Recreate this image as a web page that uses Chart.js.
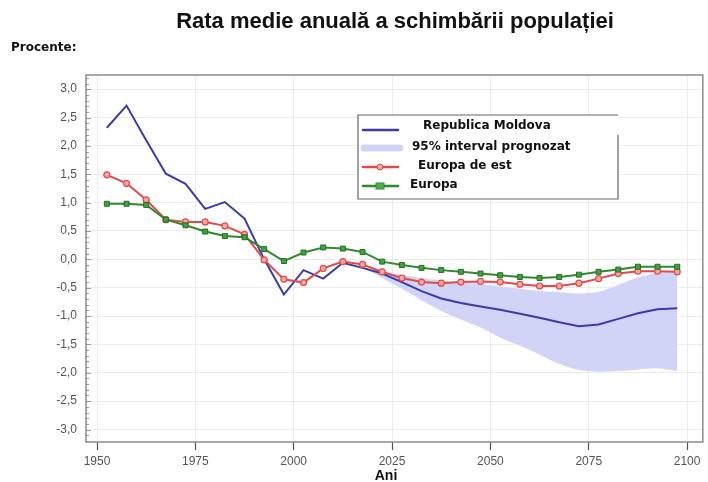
<!DOCTYPE html>
<html>
<head>
<meta charset="utf-8">
<script src="https://cdn.jsdelivr.net/npm/chart.js@4"></script>
<style>
  html, body { margin: 0; padding: 0; background: #fff; }
  #wrap { width: 708px; height: 482px; }
</style>
</head>
<body>
<div id="wrap"><canvas id="chart" width="708" height="482"></canvas></div>
<script>
// mid-points of the 5-year periods
const years = [
  1952.5, 1957.5, 1962.5, 1967.5, 1972.5, 1977.5, 1982.5, 1987.5, 1992.5, 1997.5,
  2002.5, 2007.5, 2012.5, 2017.5, 2022.5, 2027.5, 2032.5, 2037.5, 2042.5, 2047.5,
  2052.5, 2057.5, 2062.5, 2067.5, 2072.5, 2077.5, 2082.5, 2087.5, 2092.5, 2097.5
]
const moldova = [
  2.32, 2.71, 2.10, 1.51, 1.33, 0.89, 1.01, 0.72, 0.00, -0.62,
  -0.19, -0.34, -0.06, -0.15, -0.25, -0.40, -0.56, -0.69, -0.77, -0.83,
  -0.89, -0.96, -1.03, -1.11, -1.18, -1.15, -1.05, -0.95, -0.88, -0.86
]
const europaEst = [
  1.49, 1.34, 1.05, 0.70, 0.66, 0.66, 0.59, 0.44, -0.01, -0.35,
  -0.41, -0.16, -0.04, -0.09, -0.22, -0.33, -0.40, -0.42, -0.40, -0.39,
  -0.40, -0.44, -0.47, -0.47, -0.42, -0.34, -0.25, -0.21, -0.21, -0.22
]
const europa = [
  0.98, 0.98, 0.96, 0.70, 0.60, 0.49, 0.41, 0.39, 0.18, -0.03,
  0.12, 0.21, 0.19, 0.13, -0.04, -0.10, -0.15, -0.19, -0.22, -0.25,
  -0.28, -0.31, -0.33, -0.31, -0.27, -0.22, -0.18, -0.13, -0.13, -0.13
]
// 95% projection interval
const bandYears = [
  2017.5, 2022.5, 2027.5, 2032.5, 2037.5, 2042.5, 2047.5, 2052.5, 2057.5,
  2062.5, 2067.5, 2072.5, 2077.5, 2082.5, 2087.5, 2092.5, 2097.5
]
const bandHigh = [
  -0.15, -0.22, -0.27, -0.33, -0.37, -0.41, -0.44, -0.48, -0.52,
  -0.56, -0.58, -0.60, -0.57, -0.45, -0.32, -0.24, -0.22
]
const bandLow = [
  -0.15, -0.33, -0.52, -0.72, -0.91, -1.06, -1.20, -1.38, -1.52,
  -1.68, -1.84, -1.95, -1.98, -1.97, -1.94, -1.92, -1.97
]
const xTicks = [1950, 1975, 2000, 2025, 2050, 2075, 2100]
const yTicks = [-3, -2.5, -2, -1.5, -1, -0.5, 0, 0.5, 1, 1.5, 2, 2.5, 3]

const legendItems = ["Republica Moldova", "95% interval prognozat", "Europa de est", "Europa"]

const BLUE = "#3b3ba6"
const BAND = "rgb(209, 212, 247)"
const RED = "#e04a4a"
const GREEN = "#2f8a2f"
const FONT = '"Liberation Sans", Arial, sans-serif'
const HEAVY = '"DejaVu Sans", Verdana, sans-serif'

const pts = (xs, ys) => xs.map((x, i) => ({ x, y: ys[i] }))

const decor = {
  id: "decor",
  afterDraw(chart) {
    const { ctx, chartArea: a, scales } = chart
    ctx.save()

    // minor ticks on the value axis
    ctx.strokeStyle = "#9a9a9a"
    ctx.lineWidth = 1
    for (let i = -32; i <= 32; i++) {
      const y = Math.round(scales.y.getPixelForValue(i / 10)) + 0.5
      if (y < a.top || y > a.bottom) continue
      ctx.beginPath()
      ctx.moveTo(a.left, y)
      ctx.lineTo(a.left + (i % 5 === 0 ? 5 : 3), y)
      ctx.stroke()
    }

    // frame
    ctx.strokeStyle = "#8c8c8c"
    ctx.lineWidth = 1.5
    ctx.strokeRect(a.left, a.top, a.right - a.left, a.bottom - a.top)

    // texts
    ctx.fillStyle = "#111"
    ctx.textBaseline = "middle"
    ctx.textAlign = "center"
    ctx.font = "bold 22px " + FONT
    ctx.fillText("Rata medie anuală a schimbării populației", 395, 22)
    ctx.font = "bold 14px " + FONT
    ctx.fillText("Ani", 386, 476)
    ctx.textAlign = "left"
    ctx.font = "bold 12px " + HEAVY
    ctx.fillText("Procente:", 11, 48)

    // legend box
    const lx = 358, ly = 115, lw = 260, lh = 84
    ctx.fillStyle = "#fff"
    ctx.fillRect(lx, ly, lw, lh)
    ctx.strokeStyle = "#666"
    ctx.lineWidth = 1.2
    ctx.beginPath()
    ctx.moveTo(lx + lw, ly + 20)
    ctx.lineTo(lx + lw, ly + lh)
    ctx.lineTo(lx, ly + lh)
    ctx.lineTo(lx, ly)
    ctx.lineTo(lx + lw, ly)
    ctx.stroke()

    const rows = [130, 148, 167, 186]
    const textX = [423, 412, 418, 410]
    const textY = [126, 147, 166, 185]
    // samples
    ctx.lineCap = "round"
    ctx.strokeStyle = BLUE; ctx.lineWidth = 2.5
    ctx.beginPath(); ctx.moveTo(363, rows[0]); ctx.lineTo(398, rows[0]); ctx.stroke()
    ctx.strokeStyle = BAND; ctx.lineWidth = 7
    ctx.beginPath(); ctx.moveTo(364, rows[1]); ctx.lineTo(400, rows[1]); ctx.stroke()
    ctx.strokeStyle = RED; ctx.lineWidth = 2.5
    ctx.beginPath(); ctx.moveTo(363, rows[2]); ctx.lineTo(398, rows[2]); ctx.stroke()
    ctx.fillStyle = "#f3a8a8"; ctx.lineWidth = 1
    ctx.beginPath(); ctx.arc(380, rows[2], 3, 0, Math.PI * 2); ctx.fill(); ctx.stroke()
    ctx.strokeStyle = GREEN; ctx.lineWidth = 2.5
    ctx.beginPath(); ctx.moveTo(363, rows[3]); ctx.lineTo(398, rows[3]); ctx.stroke()
    ctx.fillStyle = "#55a855"; ctx.lineWidth = 1
    ctx.fillRect(376, rows[3] - 3, 8, 6); ctx.strokeRect(376, rows[3] - 3, 8, 6)

    ctx.fillStyle = "#111"
    ctx.font = "bold 12px " + HEAVY
    ctx.textAlign = "left"
    legendItems.forEach((t, i) => ctx.fillText(t, textX[i], textY[i]))

    ctx.restore()
  }
}

new Chart(document.getElementById("chart"), {
  type: "line",
  data: {
    datasets: [
      {
        label: legendItems[3],
        data: pts(years, europa),
        borderColor: GREEN,
        borderWidth: 2,
        pointStyle: "rect",
        pointRadius: 3.5,
        pointBackgroundColor: "#45a045",
        pointBorderColor: "#1f6e1f",
        pointBorderWidth: 1,
        order: 0
      },
      {
        label: legendItems[2],
        data: pts(years, europaEst),
        borderColor: RED,
        borderWidth: 2,
        pointRadius: 3,
        pointBackgroundColor: "#f3a8a8",
        pointBorderColor: RED,
        pointBorderWidth: 1.2,
        order: 1
      },
      {
        label: legendItems[0],
        data: pts(years, moldova),
        borderColor: BLUE,
        borderWidth: 2,
        pointRadius: 0,
        order: 2
      },
      {
        label: "band-high",
        data: pts(bandYears, bandHigh),
        borderWidth: 0,
        borderColor: "transparent",
        pointRadius: 0,
        tension: 0.35,
        fill: false,
        order: 3
      },
      {
        label: legendItems[1],
        data: pts(bandYears, bandLow),
        borderWidth: 0,
        borderColor: "transparent",
        backgroundColor: BAND,
        pointRadius: 0,
        tension: 0.35,
        fill: "-1",
        order: 4
      }
    ]
  },
  options: {
    responsive: false,
    animation: false,
    layout: { padding: { top: 75, right: 4, left: 0, bottom: 0 } },
    plugins: {
      legend: { display: false },
      tooltip: { enabled: false }
    },
    scales: {
      x: {
        type: "linear",
        min: 1947.2,
        max: 2104,
        afterBuildTicks: s => { s.ticks = xTicks.map(v => ({ value: v })) },
        afterFit: s => { s.height = 40 },
        grid: { color: "#ececec", tickColor: "#555", tickLength: 8, tickWidth: 1.2 },
        border: { display: false },
        ticks: {
          color: "#555",
          padding: 4,
          maxRotation: 0,
          font: { family: FONT, size: 12 },
          callback: v => String(v)
        }
      },
      y: {
        min: -3.22,
        max: 3.25,
        afterBuildTicks: s => { s.ticks = yTicks.map(v => ({ value: v })) },
        afterFit: s => { s.width = 86 },
        grid: { color: "#ececec", drawTicks: false },
        border: { display: false },
        ticks: {
          color: "#555",
          padding: 9,
          font: { family: FONT, size: 12 },
          callback: v => v.toFixed(1).replace(".", ",")
        }
      }
    }
  },
  plugins: [decor]
})
</script>
</body>
</html>
